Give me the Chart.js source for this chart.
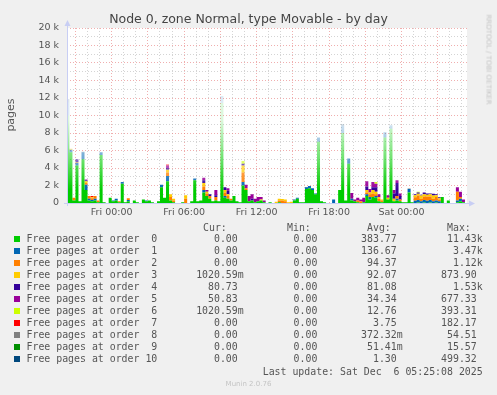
<!DOCTYPE html>
<html><head><meta charset="utf-8">
<script src="https://cdn.jsdelivr.net/npm/chart.js@4/dist/chart.umd.min.js"></script>
<style>
html,body{margin:0;padding:0;background:#F0F0F0;}
#wrap{position:relative;width:497px;height:395px;overflow:hidden;background:#F0F0F0;}
canvas{position:absolute;left:0;top:0;}
.t{position:absolute;white-space:pre;color:#555;}
.mono{font-family:"DejaVu Sans Mono",monospace;font-size:9.9px;line-height:12px;height:12px;}
.sw{position:absolute;width:6px;height:6px;}
</style></head>
<body><div id="wrap"><canvas id="c" width="497" height="395"></canvas></div>
<script>
// ---- sample times: every 15 min, hours relative to Fri 00:00 ----
const startHour = -3.75;
const stepHour = 0.25;

// ---- series values (pages), one value per 15-min sample ----
const order0 = [
10000,5800,300,4300,200,5000,1500,300,200,300,
100,5500,100,0,600,200,300,100,2200,100,
200,0,300,100,0,400,200,300,100,0,
200,1800,600,2500,300,100,0,0,100,0,
0,200,2600,200,300,1200,800,500,200,300,
200,11430,600,500,300,800,200,100,2000,1500,
200,300,100,200,300,100,0,100,0,0,
100,0,0,0,0,300,500,100,100,1600,
1700,1500,1000,7000,200,100,0,0,0,0,
1500,8000,300,4500,300,200,100,0,100,800,
400,700,600,200,100,7500,400,8500,200,300,
200,100,100,1200,100,0,50,0,50,0,
50,0,50,0,700,0,300,0,0,100,
200,100,0,0];
const order1 = [
1500,300,0,300,0,800,600,200,150,200,
0,300,0,0,0,100,200,0,200,0,
150,0,0,0,0,0,100,0,0,0,
0,300,0,600,0,0,0,0,0,0,
0,0,200,0,0,300,0,0,0,0,
0,800,200,0,0,0,0,0,400,0,
0,0,0,0,0,0,0,0,0,0,
0,0,0,0,0,100,100,0,0,200,
250,200,100,500,0,0,0,0,400,0,
0,800,0,600,200,0,0,0,0,200,
300,0,200,0,0,600,0,400,0,200,
0,0,0,400,0,250,300,200,300,250,
300,200,250,200,0,0,0,0,0,200,
300,0,0,0];
const order2 = [
0,0,300,100,0,0,200,300,200,300,
200,0,0,0,0,0,0,100,0,0,
200,0,0,0,0,0,0,0,0,0,
0,0,0,400,400,200,0,0,0,500,
0,0,0,0,0,400,300,300,0,400,
0,0,400,300,200,0,0,0,1100,200,
0,0,0,0,0,0,0,0,0,0,
200,300,200,0,0,0,0,0,0,0,
0,0,0,0,0,0,0,0,0,0,
0,0,0,0,0,0,200,200,0,200,
300,400,200,300,200,0,0,0,0,300,
200,0,0,0,0,400,500,300,400,500,
400,300,400,200,0,0,0,0,0,1000,
200,0,0,0];
const order3 = [
0,100,0,0,0,0,200,0,100,0,
0,0,0,0,0,0,0,0,0,0,
0,0,0,0,0,0,0,0,0,0,
0,0,0,300,300,200,0,0,0,400,
0,0,0,0,0,400,200,0,0,0,
0,0,300,200,0,0,0,0,800,0,
0,0,0,0,100,0,0,0,0,150,
200,150,200,100,150,0,0,0,0,0,
0,0,0,0,0,0,0,0,0,0,
0,0,0,0,0,0,0,0,0,300,
200,400,300,200,100,0,200,0,300,0,
0,0,0,0,0,250,200,350,250,200,
250,350,200,150,0,0,0,0,0,0,
0,0,0,0];
const order4 = [
0,0,0,300,0,0,100,0,0,0,
0,0,0,0,0,0,0,0,0,0,
0,0,0,0,0,0,0,0,0,0,
0,0,0,200,0,0,0,0,0,0,
0,0,0,0,0,300,0,200,0,200,
0,0,300,400,0,0,0,0,200,0,
0,200,0,0,0,0,0,0,0,0,
0,0,0,0,0,0,0,0,0,0,
0,0,0,0,0,0,0,0,0,0,
0,0,0,0,0,0,0,0,0,400,
0,300,500,0,0,0,0,0,600,1500,
400,0,0,0,0,100,150,100,200,150,
100,200,100,100,0,0,0,0,0,0,
0,0,0,0];
const order5 = [
0,0,0,0,0,0,100,0,0,0,
0,0,0,0,0,0,0,0,0,0,
0,0,0,0,0,0,0,0,0,0,
0,0,0,300,0,0,0,0,0,0,
0,0,0,0,0,300,200,0,0,600,
0,0,0,300,0,0,0,0,0,400,
600,500,400,500,300,200,0,0,0,0,
0,0,0,0,0,0,0,0,0,0,
0,0,0,0,0,0,0,0,0,0,
0,0,0,0,650,200,300,200,500,600,
400,600,400,300,0,0,300,0,400,300,
300,0,0,0,0,0,0,0,0,0,
0,0,0,0,0,0,0,0,0,500,
600,300,0,0];
const order6 = [
0,0,0,0,0,0,0,0,0,0, 0,0,0,0,0,0,0,0,0,0,
0,0,0,0,0,0,0,0,0,0, 0,0,0,0,0,0,0,0,0,0,
0,0,0,0,0,0,0,0,0,0, 0,0,0,0,0,0,0,0,300,0,
0,0,0,0,0,0,0,0,0,0, 0,0,0,0,0,0,0,0,0,0,
0,0,0,0,0,0,0,0,0,0, 0,0,0,0,0,0,0,0,0,0,
0,0,200,0,0,0,0,0,0,0, 0,0,0,0,0,0,80,0,0,0,
0,0,0,0,0,0,0,0,0,0, 0,0,0,0];
const order7 = [
0,0,0,0,0,0,0,0,150,0, 0,0,0,0,0,0,0,0,0,0,
0,0,0,0,0,0,0,0,0,0, 0,0,0,100,0,0,0,0,0,0,
0,0,0,0,0,0,0,0,0,0, 0,0,0,0,0,0,0,0,0,0,
0,0,0,0,0,0,0,0,0,0, 0,0,0,0,0,0,0,0,0,0,
0,0,0,0,0,0,0,0,0,0, 0,0,0,0,0,0,0,0,0,0,
0,0,0,0,0,0,0,0,0,0, 0,0,0,0,0,0,0,0,0,0,
0,0,0,0,0,0,0,0,0,0, 0,0,0,0];
const order8 = [
0,0,0,0,0,50,0,0,0,0, 0,0,0,0,0,0,0,0,0,0,
0,0,0,0,0,0,0,0,0,0, 0,0,0,0,0,0,0,0,0,0,
0,0,0,0,0,0,0,0,0,0, 0,0,0,0,0,0,0,0,0,0,
0,0,0,0,0,0,0,0,0,0, 0,0,0,0,0,0,0,0,0,0,
0,0,0,0,0,0,0,0,0,0, 0,0,0,0,0,0,0,0,0,0,
0,0,0,0,0,0,0,0,0,0, 0,0,0,50,0,0,0,0,0,0,
0,0,0,0,0,0,0,0,0,0, 0,0,0,0];
const order9 = [
0,0,0,0,0,0,0,0,0,0, 0,0,0,0,0,0,0,0,0,0,
0,0,0,0,0,0,0,0,0,0, 0,0,0,0,0,0,0,0,0,0,
0,0,0,0,0,0,0,0,0,0, 0,0,0,0,0,0,0,0,0,0,
0,0,0,0,0,0,0,0,0,0, 0,0,0,0,0,0,0,0,0,15,
0,0,0,0,0,0,0,0,0,0, 0,0,0,0,0,0,0,0,0,0,
0,0,0,0,0,0,0,0,0,0, 0,0,0,0,0,0,0,0,0,0,
0,0,0,0,0,0,0,0,0,0, 0,0,0,0];
const order10 = [
400,0,0,0,0,0,0,0,0,0, 0,0,0,0,0,0,0,0,0,0,
0,0,0,0,0,0,0,0,0,0, 0,0,0,0,0,0,0,0,0,0,
0,0,0,0,0,0,0,0,0,0, 0,0,0,0,0,0,0,0,0,0,
0,0,0,0,0,0,0,0,0,0, 0,0,0,0,0,0,0,0,0,0,
0,0,0,0,0,0,0,0,0,0, 0,200,0,0,0,0,0,0,0,0,
0,0,0,0,0,0,0,0,0,0, 0,0,0,0,0,0,0,0,0,0,
0,0,0,0,0,0,0,0,0,0, 0,0,0,0];

// ---- legend ----
const seriesNames = ['Free pages at order  0','Free pages at order  1','Free pages at order  2','Free pages at order  3','Free pages at order  4','Free pages at order  5','Free pages at order  6','Free pages at order  7','Free pages at order  8','Free pages at order  9','Free pages at order 10'];
const seriesColors = ['#00CC00','#0066B3','#FF8000','#FFCC00','#330099','#990099','#CCFF00','#FF0000','#808080','#008F00','#00487D'];
const curVals = ['0.00','0.00','0.00','1020.59m','80.73','50.83','1020.59m','0.00','0.00','0.00','0.00'];
const minVals = ['0.00','0.00','0.00','0.00','0.00','0.00','0.00','0.00','0.00','0.00','0.00'];
const avgVals = ['383.77','136.67','94.37','92.07','81.08','34.34','12.76','3.75','372.32m','51.41m','1.30'];
const maxVals = ['11.43k','3.47k','1.12k','873.90','1.53k','677.33','393.31','182.17','54.51','15.57','499.32'];

// ---- axes ----
const xTickHours = [0, 6, 12, 18, 24];
const xTickLabels = ['Fri 00:00','Fri 06:00','Fri 12:00','Fri 18:00','Sat 00:00'];
const xMin = -3.70, xMax = 29.42;
const yMax = 20000;

const allSeries = [order0,order1,order2,order3,order4,order5,order6,order7,order8,order9,order10];
const times = order0.map((_, i) => startHour + stepHour * i);

function fade(color) {
  return (c) => {
    const ch = c.chart, a = ch.chartArea;
    if (!a) return color;
    const y = ch.scales.y;
    const g = ch.ctx.createLinearGradient(0, y.getPixelForValue(1500), 0, y.getPixelForValue(9500));
    g.addColorStop(0, color);
    g.addColorStop(0.45, color + '90');
    g.addColorStop(1, color + '22');
    return g;
  };
}

const datasets = allSeries.map((vals, k) => ({
  label: seriesNames[k],
  data: vals.map((v, i) => ({x: times[i], y: v})),
  backgroundColor: fade(seriesColors[k]),
  borderColor: 'rgba(0,0,0,0)',
  borderWidth: 0,
  pointRadius: 0,
  stepped: true,
  fill: k === 0 ? 'origin' : '-1',
  tension: 0
}));

const canvasBg = {
  id: 'canvasBg',
  beforeDraw(chart) {
    const {ctx, chartArea: a} = chart;
    ctx.save();
    ctx.fillStyle = '#FFFFFF';
    ctx.fillRect(a.left, a.top, a.right - a.left, a.bottom - a.top);
    ctx.restore();
  },
  afterDatasetsDraw(chart) {
    const {ctx, chartArea: a} = chart;
    ctx.save();
    ctx.strokeStyle = '#C8CEF4';
    ctx.fillStyle = '#C8CEF4';
    ctx.lineWidth = 1;
    const lx = a.left + 0.5, by = a.bottom + 0.5;
    ctx.beginPath(); ctx.moveTo(lx, a.bottom + 3); ctx.lineTo(lx, a.top - 3); ctx.stroke();
    ctx.beginPath(); ctx.moveTo(lx - 3, a.top - 2); ctx.lineTo(lx + 3, a.top - 2); ctx.lineTo(lx, a.top - 8); ctx.closePath(); ctx.fill();
    ctx.beginPath(); ctx.moveTo(a.left - 3, by); ctx.lineTo(a.right + 3, by); ctx.stroke();
    ctx.beginPath(); ctx.moveTo(a.right + 2, by - 3); ctx.lineTo(a.right + 2, by + 3); ctx.lineTo(a.right + 8, by); ctx.closePath(); ctx.fill();
    ctx.restore();
  }
};

new Chart(document.getElementById('c'), {
  type: 'line',
  data: {datasets},
  options: {
    responsive: false,
    animation: false,
    devicePixelRatio: 1,
    layout: {padding: {top: 28, right: 30, bottom: 172, left: 0}},
    plugins: {legend: {display: false}, title: {display: false}, tooltip: {enabled: false}},
    elements: {line: {borderWidth: 0}},
    scales: {
      x: {
        type: 'linear', min: xMin, max: xMax,
        afterBuildTicks(s) { const t = []; for (let h = Math.ceil(xMin); h <= Math.floor(xMax); h++) t.push({value: h}); s.ticks = t; },
        afterFit(s) { s.height = 20; },
        ticks: {
          autoSkip: false, maxRotation: 0, padding: 4,
          color: '#555', font: {family: 'DejaVu Sans', size: 9.5},
          callback: (v) => { const k = xTickHours.indexOf(v); return k >= 0 ? xTickLabels[k] : ''; }
        },
        grid: {
          drawTicks: false, lineWidth: 1,
          color: (c) => { const v = c.tick && c.tick.value; return (((v % 3) + 3) % 3 === 0) ? 'rgba(230,120,120,0.6)' : 'rgba(170,170,170,0.5)'; }
        },
        border: {display: false, dash: [1, 2]}
      },
      y: {
        type: 'linear', min: 0, max: yMax, stacked: true,
        afterBuildTicks(s) { const t = []; for (let v = 0; v <= yMax; v += 1000) t.push({value: v}); s.ticks = t; },
        afterFit(s) { s.width = 67; },
        ticks: {
          autoSkip: false, padding: 8,
          color: '#555', font: {family: 'DejaVu Sans', size: 9.5},
          callback: (v) => v % 2000 !== 0 ? '' : (v === 0 ? '0' : (v / 1000) + ' k')
        },
        grid: {
          drawTicks: false, lineWidth: 1,
          color: (c) => { const v = c.tick && c.tick.value; if (v === 0) return 'rgba(0,0,0,0)'; return v % 2000 === 0 ? 'rgba(230,120,120,0.6)' : 'rgba(170,170,170,0.5)'; }
        },
        border: {display: false, dash: [1, 2]}
      }
    }
  },
  plugins: [canvasBg]
});

// ---- HTML texts ----
const wrap = document.getElementById('wrap');
function addText(txt, css, cls) {
  const d = document.createElement('div');
  d.className = 't' + (cls ? ' ' + cls : '');
  d.textContent = txt;
  Object.assign(d.style, css);
  wrap.appendChild(d);
  return d;
}
addText('Node 0, zone Normal, type Movable - by day', {left: '0px', width: '497px', top: '11px', textAlign: 'center', font: '12.5px "DejaVu Sans"', lineHeight: '16px', color: '#444'});
addText('pages', {left: '-9px', top: '108px', width: '40px', textAlign: 'center', font: '11px "DejaVu Sans"', lineHeight: '14px', transform: 'rotate(-90deg)', color: '#555'});
addText('RRDTOOL / TOBI OETIKER', {left: '446px', top: '52px', width: '84px', textAlign: 'center', font: '7px "DejaVu Sans"', lineHeight: '9px', transform: 'rotate(90deg)', color: '#c4c4c4'});

const colRight = [243.7, 323.3, 402.7, 482.7];
const headers = [['Cur:', 203], ['Min:', 287], ['Avg:', 367], ['Max:', 447]];
headers.forEach(([h, x]) => addText(h, {left: x + 'px', top: (228.3 - 6) + 'px'}, 'mono'));
function withSuffix(s) { return /[0-9]$/.test(s) ? s + ' ' : s; }
seriesNames.forEach((name, k) => {
  const yc = 239.3 + 12 * k;
  const sw = document.createElement('div');
  sw.className = 'sw';
  sw.style.left = '14px'; sw.style.top = (yc - 3) + 'px'; sw.style.background = seriesColors[k];
  wrap.appendChild(sw);
  addText(name, {left: '26.5px', top: (yc - 6) + 'px'}, 'mono');
  [curVals, minVals, avgVals, maxVals].forEach((arr, j) => {
    addText(withSuffix(arr[k]), {left: (colRight[j] - 80) + 'px', width: '80px', textAlign: 'right', top: (yc - 6) + 'px'}, 'mono');
  });
});
addText('Last update: Sat Dec  6 05:25:08 2025', {left: (482.7 - 260) + 'px', width: '260px', textAlign: 'right', top: (371.7 - 6) + 'px'}, 'mono');
addText('Munin 2.0.76', {left: '0px', width: '497px', textAlign: 'center', top: '379px', font: '7px "DejaVu Sans"', lineHeight: '10px', color: '#c4c4c4'});
</script>
</body></html>
